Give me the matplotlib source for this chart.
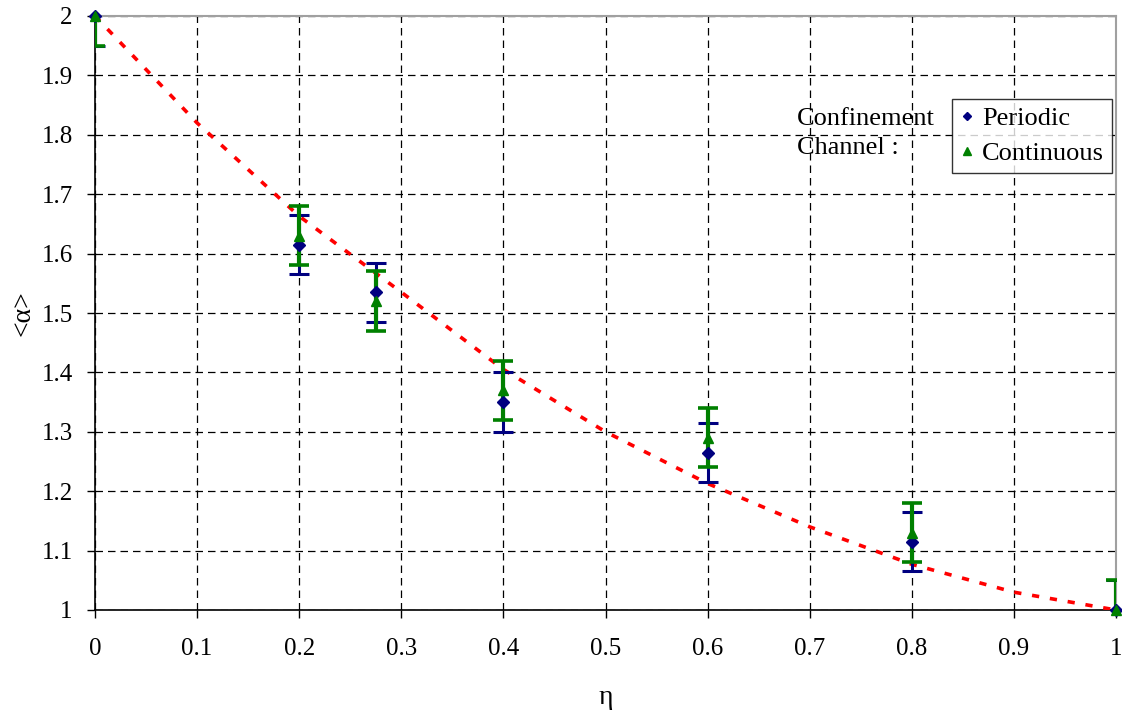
import matplotlib
matplotlib.use("Agg")
import matplotlib.pyplot as plt
import numpy as np

eta = [0.0, 0.2, 0.275, 0.4, 0.6, 0.8, 1.0]
periodic = [2.0, 1.615, 1.535, 1.35, 1.265, 1.115, 1.0]
periodic_err = [0.05, 0.05, 0.05, 0.05, 0.05, 0.05, 0.05]
continuous = [2.0, 1.63, 1.52, 1.37, 1.29, 1.13, 1.0]
continuous_err = [0.05, 0.05, 0.05, 0.05, 0.05, 0.05, 0.05]

curve_eta = [0.0, 0.1, 0.2, 0.3, 0.4, 0.5, 0.6, 0.7, 0.8, 0.9, 1.0]
curve_alpha = [2.0, 1.82, 1.663, 1.535, 1.405, 1.30, 1.213, 1.14, 1.077, 1.03, 1.0]

xticks = [0, 0.1, 0.2, 0.3, 0.4, 0.5, 0.6, 0.7, 0.8, 0.9, 1]
xticklabels = ["0", "0.1", "0.2", "0.3", "0.4", "0.5", "0.6", "0.7", "0.8", "0.9", "1"]
yticks = [1, 1.1, 1.2, 1.3, 1.4, 1.5, 1.6, 1.7, 1.8, 1.9, 2]
yticklabels = ["1", "1.1", "1.2", "1.3", "1.4", "1.5", "1.6", "1.7", "1.8", "1.9", "2"]

plt.rcParams['font.family'] = ['Liberation Serif', 'DejaVu Serif']

fig = plt.figure(figsize=(11.22, 7.12), dpi=100)
ax = fig.add_axes([95/1122, 1 - 610/712, (1116-95)/1122, (610-16)/712])

ax.set_xlim(0, 1)
ax.set_ylim(1, 2)

ax.set_xticks(xticks)
ax.set_xticklabels(xticklabels)
ax.set_yticks(yticks)
ax.set_yticklabels(yticklabels)
ax.tick_params(axis='both', direction='out', length=6, width=1, labelsize=18, color='black')
ax.tick_params(axis='x', pad=14)
ax.tick_params(axis='y', pad=10)

ax.grid(True, color='black', linestyle=(0, (6, 4)), linewidth=0.9)
ax.set_axisbelow(True)

for s in ['top', 'right']:
    ax.spines[s].set_color('#a0a0a0')
    ax.spines[s].set_linewidth(1.5)
for s in ['left', 'bottom']:
    ax.spines[s].set_color('black')
    ax.spines[s].set_linewidth(1.2)

ax.plot(curve_eta, curve_alpha, color='red', linestyle=(0, (2, 3)), linewidth=2.6, zorder=3)

ax.errorbar(eta, periodic, yerr=periodic_err, fmt='none', ecolor='#000080',
            elinewidth=2.2, capsize=7, capthick=2.2, zorder=4)
ax.errorbar(eta, continuous, yerr=continuous_err, fmt='none', ecolor='#008000',
            elinewidth=3, capsize=7, capthick=2.6, zorder=5)
ax.plot(eta, periodic, linestyle='none', marker='D', color='#000080', markersize=6, zorder=6,
        label='Periodic', clip_on=False)
ax.plot(eta, continuous, linestyle='none', marker='^', color='#008000', markersize=7, zorder=6,
        label='Continuous', clip_on=False)

leg = ax.legend(loc='upper left', bbox_to_anchor=((952-95)/1021, (610-99)/594),
                fontsize=19, frameon=True, fancybox=False, edgecolor='black',
                handlelength=0.5, handletextpad=0.35, borderpad=0.3, labelspacing=0.42,
                markerscale=0.75, borderaxespad=0, handleheight=0.7)
leg.get_frame().set_linewidth(1.0)

ax.text((797-95)/1021, (610-133.5)/594, "Confinement\nChannel :", transform=ax.transAxes,
        fontsize=19, va='center', ha='left', linespacing=1.45)

ax.set_xlabel("η", fontsize=20, labelpad=18)
ax.set_ylabel("<α>", fontsize=20, labelpad=4)

fig.savefig("out.png", dpi=100)
